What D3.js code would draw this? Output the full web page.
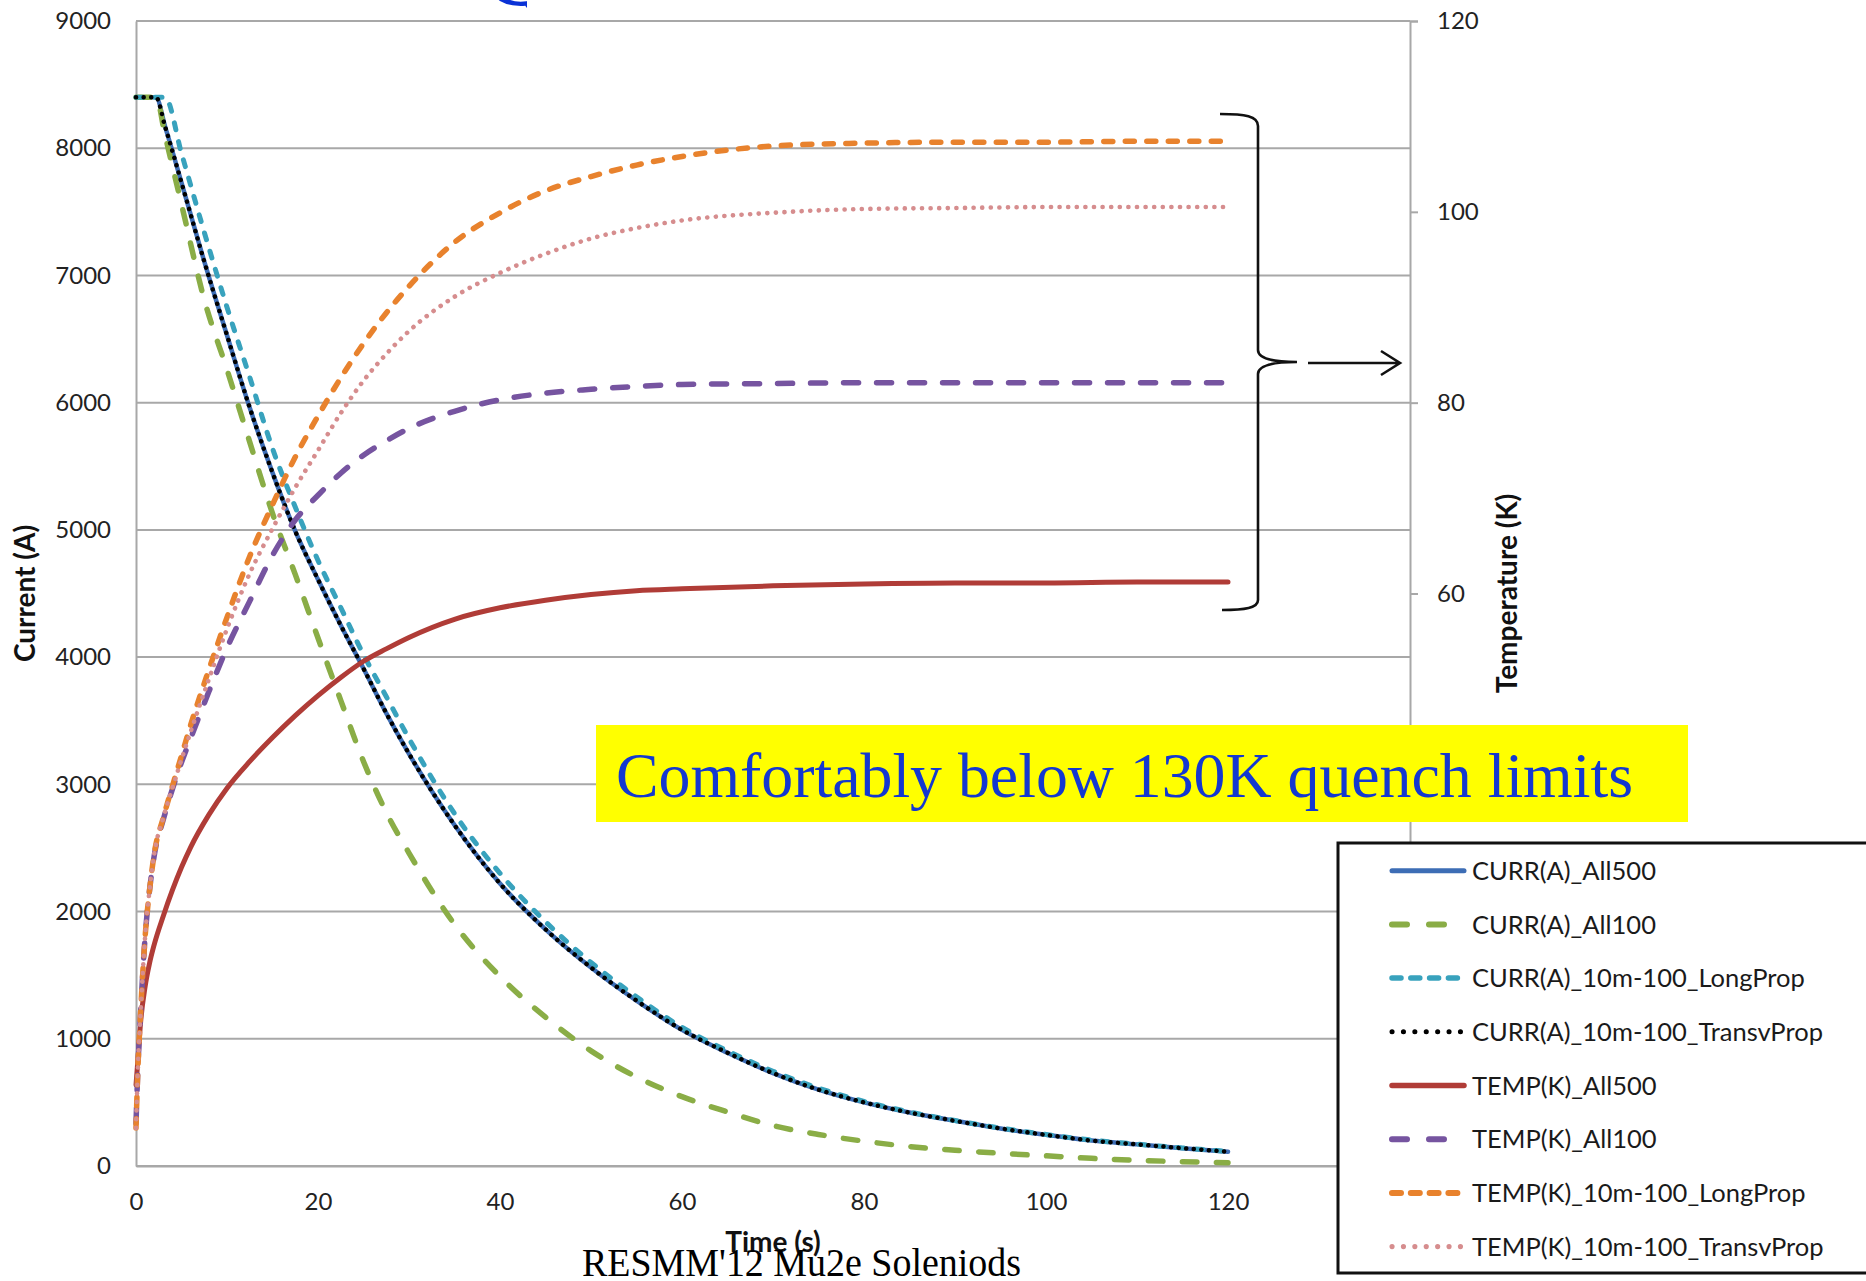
<!DOCTYPE html>
<html><head><meta charset="utf-8">
<script src="https://cdn.jsdelivr.net/npm/d3@7"></script>
<style>
html,body{margin:0;padding:0;background:#fff;}
svg{display:block;}
</style></head><body>
<svg id="chart" width="1866" height="1281"></svg>
<script>
// ---------- DATA ----------
const currTime = [0,2.2,3.2,5,7.5,10,12.5,15,17.5,20,22.5,25,27.5,30,35,40,45,50,55,60,65,70,75,80,85,90,95,100,105,110,115,120];
const currAll500 = [8400,8400,8170,7730,7110,6530,5960,5450,4990,4610,4250,3910,3560,3240,2680,2220,1860,1560,1300,1070,890,730,600,500,420,355,295,245,200,170,140,112];
const currAll100 = [8400,8400,8100,7560,6810,6260,5690,5130,4650,4150,3660,3180,2780,2460,1900,1490,1170,905,700,545,425,318,248,195,153,124,100,80,60,45,34,26];
const currLongProp = [8400,8400,8400,7960,7340,6750,6200,5640,5180,4760,4390,4020,3690,3360,2770,2300,1920,1600,1330,1090,905,745,612,508,425,358,298,248,204,172,142,115];
const currTransvProp = [8400,8400,8170,7730,7110,6530,5960,5450,4990,4610,4250,3910,3560,3240,2680,2220,1860,1560,1300,1070,890,730,600,500,420,355,295,245,200,170,140,112];

const tempTime = [0,0.2,0.5,1,1.5,2,3,4,5,6,8,10,12.5,15,17.5,20,22.5,25,27.5,30,35,40,45,50,55,60,70,80,90,100,110,120];
const tempAll500 = [8.5,11,15,18.8,21.3,23.2,26.2,28.9,31.3,33.4,36.8,39.6,42.4,44.9,47.2,49.3,51.2,52.9,54.2,55.4,57.3,58.5,59.3,59.9,60.3,60.5,60.8,61,61.1,61.1,61.2,61.2];
const tempAll100 = [4.5,10,16,24,29,32.5,36.3,39.5,42.3,44.8,49.7,54.3,59.2,64,67.7,70.3,72.6,74.5,76,77.3,79.1,80.3,81,81.4,81.7,81.9,82,82.1,82.1,82.1,82.1,82.1];
const tempLongProp = [4,10,16,24,29,32.7,36.5,39.8,43,46.2,52,57.5,63.9,69.3,74.3,78.6,82.6,86.2,89.4,92.2,96.8,99.9,102.2,103.7,104.9,105.8,106.9,107.2,107.3,107.3,107.4,107.4];
const tempTransvProp = [4,10,16,24,29,32.7,36.5,39.6,42.6,45.5,51,56.3,62.1,66.8,71.1,75,78.9,82.3,85.1,87.5,91.1,93.6,95.6,97.2,98.3,99.1,99.9,100.3,100.4,100.5,100.5,100.5];

const seriesNames = ["CURR(A)_All500","CURR(A)_All100","CURR(A)_10m-100_LongProp","CURR(A)_10m-100_TransvProp",
                     "TEMP(K)_All500","TEMP(K)_All100","TEMP(K)_10m-100_LongProp","TEMP(K)_10m-100_TransvProp"];
const xTicks = [0,20,40,60,80,100,120];
const leftTicks = [0,1000,2000,3000,4000,5000,6000,7000,8000,9000];
const rightTicks = [0,20,40,60,80,100,120];

// ---------- LAYOUT ----------
const svg = d3.select("#chart");
const L = 136, R = 1410, T = 21, B = 1166;
const x = d3.scaleLinear().domain([0,140]).range([L,R]);
const yI = d3.scaleLinear().domain([0,9000]).range([B,T]);
const yT = d3.scaleLinear().domain([0,120]).range([B,T]);

const styles = [
  {axis:"I", t:currTime, v:currAll500,   color:"#3d6db5", w:4.5, dash:null,        ldash:null},
  {axis:"I", t:currTime, v:currAll100,   color:"#8aad46", w:5.5, dash:"14.5,19.5", ldash:"15,22"},
  {axis:"I", t:currTime, v:currLongProp, color:"#38a2bd", w:5,   dash:"7,12",      ldash:"9,9.8"},
  {axis:"I", t:currTime, v:currTransvProp,color:"#000000",w:4.5, dash:"0.1,7.5",   ldash:"0.1,11.3"},
  {axis:"T", t:tempTime, v:tempAll500,   color:"#b03c37", w:5,   dash:null,        ldash:null},
  {axis:"T", t:tempTime, v:tempAll100,   color:"#7654a0", w:5.5, dash:"15,18",     ldash:"15,22"},
  {axis:"T", t:tempTime, v:tempLongProp, color:"#e8822d", w:5.5, dash:"9,12.5",    ldash:"9,9.8"},
  {axis:"T", t:tempTime, v:tempTransvProp,color:"#d68d8e",w:4.6, dash:"0.1,8.5",   ldash:"0.1,11.3"}
];

const gridColor = "#a8a8a8";
const font = "Lato, 'Open Sans', sans-serif";

// partial title letter at the top edge
const defs = svg.append("defs");
defs.append("clipPath").attr("id","qclip").append("rect").attr("x",0).attr("y",0).attr("width",527).attr("height",40);
svg.append("text").attr("clip-path","url(#qclip)")
  .attr("x",481).attr("y",5).attr("font-family","'Liberation Serif', 'Times New Roman', serif")
  .attr("font-size",110).attr("fill","#0a32d6").text("Q");

// gridlines
svg.append("g").selectAll("line").data(leftTicks).join("line")
  .attr("x1",L).attr("x2",R).attr("y1",d=>yI(d)).attr("y2",d=>yI(d))
  .attr("stroke",gridColor).attr("stroke-width",2);

// left axis
const gl = svg.append("g").attr("transform",`translate(${L},0)`)
  .call(d3.axisLeft(yI).tickValues(leftTicks).tickSize(0).tickPadding(25).tickFormat(d3.format("d")));
gl.select(".domain").attr("stroke",gridColor).attr("stroke-width",2);
gl.selectAll("text").attr("font-family",font).attr("font-size",24).attr("fill","#222");

// right axis
const gr = svg.append("g").attr("transform",`translate(${R},0)`)
  .call(d3.axisRight(yT).tickValues(rightTicks).tickSize(8).tickPadding(19));
gr.select(".domain").attr("stroke",gridColor).attr("stroke-width",2);
gr.selectAll("line").attr("stroke",gridColor).attr("stroke-width",2);
gr.selectAll("text").attr("font-family",font).attr("font-size",24).attr("fill","#222");

// bottom axis
const gb = svg.append("g").attr("transform",`translate(0,${B})`)
  .call(d3.axisBottom(x).tickValues(xTicks).tickSize(0).tickPadding(27));
gb.select(".domain").attr("stroke",gridColor).attr("stroke-width",2);
gb.selectAll("text").attr("font-family",font).attr("font-size",24).attr("fill","#222");

// series
const gs = svg.append("g");
styles.forEach((s,i)=>{
  const yS = s.axis==="I" ? yI : yT;
  const pts = s.t.map((t,k)=>[t,s.v[k]]);
  const line = d3.line().x(d=>x(d[0])).y(d=>yS(d[1])).curve(d3.curveMonotoneX);
  gs.append("path").datum(pts).attr("d",line)
    .attr("fill","none").attr("stroke",s.color).attr("stroke-width",s.w)
    .attr("stroke-linecap","round").attr("stroke-linejoin","round")
    .attr("stroke-dasharray",s.dash);
});

// axis titles
svg.append("text").attr("transform",`translate(35,${(T+B)/2}) rotate(-90)`)
  .attr("text-anchor","middle").attr("font-family",font).attr("font-weight","bold")
  .attr("font-size",28).attr("fill","#111").text("Current (A)");
svg.append("text").attr("transform",`translate(1517,${(T+B)/2}) rotate(-90)`)
  .attr("text-anchor","middle").attr("font-family",font).attr("font-weight","bold")
  .attr("font-size",28).attr("fill","#111").text("Temperature (K)");

// brace and arrow
svg.append("path")
  .attr("d","M1220,114 C1245,114 1258,116 1258,126 L1258,350 C1258,358 1270,362 1297,362 C1270,362 1258,366 1258,374 L1258,600 C1258,608 1245,610 1222,610")
  .attr("fill","none").attr("stroke","#111").attr("stroke-width",2.6);
svg.append("path").attr("d","M1308,363 L1400,363 M1381,351 L1400,363 L1381,375")
  .attr("fill","none").attr("stroke","#111").attr("stroke-width",2.6);

// yellow callout
svg.append("rect").attr("x",596).attr("y",725).attr("width",1092).attr("height",97).attr("fill","#ffff00");
svg.append("text").attr("x",616).attr("y",797)
  .attr("font-family","'Liberation Serif', 'Times New Roman', serif").attr("font-size",64)
  .attr("fill","#1438d0").attr("textLength",1017).attr("lengthAdjust","spacingAndGlyphs")
  .text("Comfortably below 130K quench limits");

// legend
const lg = svg.append("g");
lg.append("rect").attr("x",1338).attr("y",843).attr("width",600).attr("height",430)
  .attr("fill","#fff").attr("stroke","#111").attr("stroke-width",3);
styles.forEach((s,i)=>{
  const yy = 870.7 + i*53.7;
  lg.append("line").attr("x1",1392).attr("x2",1464).attr("y1",yy).attr("y2",yy)
    .attr("stroke",s.color).attr("stroke-width",s.w+0.5).attr("stroke-linecap","round")
    .attr("stroke-dasharray",s.ldash);
  lg.append("text").attr("x",1472).attr("y",yy).attr("dy","0.36em")
    .attr("font-family",font).attr("font-size",25.5).attr("fill","#1a1a1a").text(seriesNames[i]);
});

// x title and footer
svg.append("text").attr("x",(L+R)/2).attr("y",1252).attr("text-anchor","middle")
  .attr("font-family",font).attr("font-weight","bold").attr("font-size",28).attr("fill","#111").text("Time (s)");
svg.append("text").attr("x",582).attr("y",1276)
  .attr("font-family","'Liberation Serif', 'Times New Roman', serif").attr("font-size",40)
  .attr("fill","#000").attr("textLength",439).attr("lengthAdjust","spacingAndGlyphs")
  .text("RESMM'12  Mu2e Soleniods");
</script>
</body></html>
